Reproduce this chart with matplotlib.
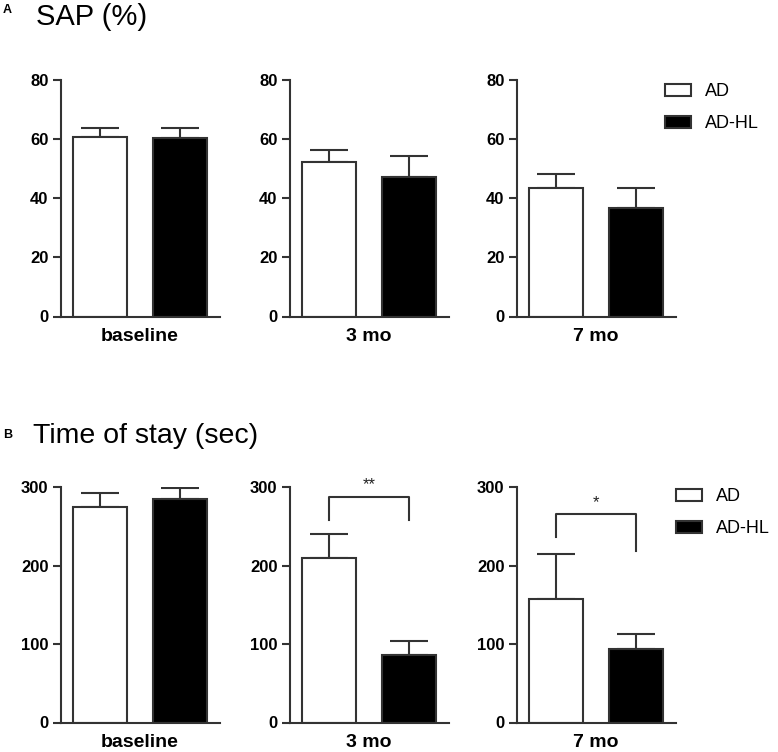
import matplotlib
matplotlib.use("Agg")
import matplotlib.pyplot as plt
import numpy as np

plt.rcParams['font.family'] = ['Liberation Sans', 'DejaVu Sans']

# ---- data ----
timepoints = ["baseline", "3 mo", "7 mo"]
groups = ["AD", "AD-HL"]
sap_ad = [60.7, 52.3, 43.6]
sap_ad_err = [3.2, 3.9, 4.7]
sap_hl = [60.5, 47.2, 36.7]
sap_hl_err = [3.3, 7.0, 6.9]
stay_ad = [275, 209, 157]
stay_ad_err = [17, 31, 58]
stay_hl = [285, 86, 94]
stay_hl_err = [14, 18, 19]
sap_ticks = [0, 20, 40, 60, 80]
stay_ticks = [0, 100, 200, 300]
# significance: (timepoint index, bracket top, left leg bottom, right leg bottom, label)
stay_sig = [(1, 287, 258, 258, "**"), (2, 265, 236, 218, "*")]

W, H = 778, 752
fig = plt.figure(figsize=(W / 100, H / 100), dpi=100)

LC = '#333333'
lefts = [61, 290, 517]
aw = 159

def fr(x0, y0, x1, y1):
    return [x0 / W, 1 - y1 / H, (x1 - x0) / W, (y1 - y0) / H]

def make_panel(top, bottom, ad, ad_err, hl, hl_err, ticks, ymax, sig=None, legend_xy=None):
    axes = []
    for i, tp in enumerate(timepoints):
        ax = fig.add_axes(fr(lefts[i], top, lefts[i] + aw, bottom))
        b1 = ax.bar([0], [ad[i]], width=0.667, color='white', edgecolor=LC, linewidth=1.5, zorder=2)
        b2 = ax.bar([1], [hl[i]], width=0.667, color='black', edgecolor=LC, linewidth=1.5, zorder=2)
        ax.errorbar([0, 1], [ad[i], hl[i]], yerr=[[0, 0], [ad_err[i], hl_err[i]]],
                    fmt='none', ecolor=LC, elinewidth=1.5, capsize=14, capthick=1.5, zorder=1)
        ax.set_xlim(-0.485, 1.5)
        ax.set_ylim(0, ymax)
        ax.set_yticks(ticks)
        ax.set_yticklabels([str(t) for t in ticks], fontsize=12, fontweight='bold')
        ax.set_xticks([0.5])
        ax.set_xticklabels([tp], fontsize=14, fontweight='bold')
        ax.tick_params(axis='x', length=0, pad=8)
        ax.tick_params(axis='y', length=6, width=1.5, color=LC, pad=3)
        for s in ['top', 'right']:
            ax.spines[s].set_visible(False)
        for s in ['left', 'bottom']:
            ax.spines[s].set_linewidth(1.5)
            ax.spines[s].set_color(LC)
        ax.patch.set_alpha(0)
        axes.append((ax, b1, b2))
    if sig:
        for (idx, ytop, yl, yr, lab) in sig:
            ax = axes[idx][0]
            ax.plot([0, 0, 1, 1], [yl, ytop, ytop, yr], color=LC, linewidth=1.5, clip_on=False)
            ax.text(0.5, ytop + 6, lab, ha='center', va='bottom', fontsize=12, color='#222222')
    ax, b1, b2 = axes[2]
    fig.legend([b1, b2], groups, loc='upper left',
               bbox_to_anchor=(legend_xy[0] / W, 1 - legend_xy[1] / H),
               frameon=False, fontsize=13, handlelength=1.45, handleheight=0.65,
               handletextpad=0.75, labelspacing=0.85, borderpad=0, borderaxespad=0)
    return axes

make_panel(80, 316.5, sap_ad, sap_ad_err, sap_hl, sap_hl_err, sap_ticks, 80, legend_xy=(665, 83))
make_panel(487, 722.5, stay_ad, stay_ad_err, stay_hl, stay_hl_err, stay_ticks, 300,
           sig=stay_sig, legend_xy=(676, 488))

fig.text(3 / W, 1 - 13 / H, "A", fontsize=9, fontweight='bold', va='baseline')
fig.text(36 / W, 1 - 25 / H, "SAP (%)", fontsize=21, va='baseline')
fig.text(3 / W, 1 - 438 / H, "B", fontsize=9, fontweight='bold', va='baseline')
fig.text(33 / W, 1 - 443 / H, "Time of stay (sec)", fontsize=20.5, va='baseline')

fig.savefig("out.png", dpi=100)
